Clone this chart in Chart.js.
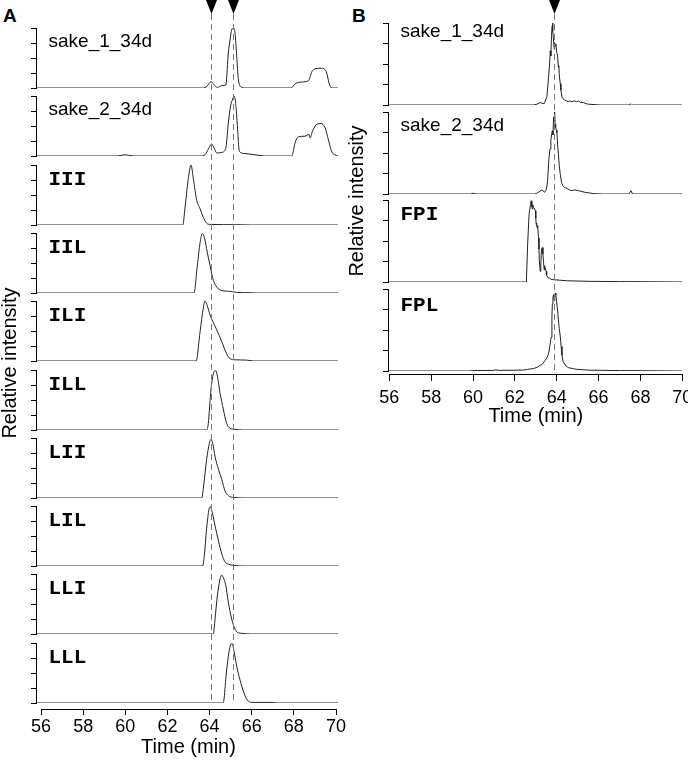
<!DOCTYPE html>
<html>
<head>
<meta charset="utf-8">
<script src="https://cdn.jsdelivr.net/npm/chart.js@4.4.1/dist/chart.umd.min.js"></script>
<style>
  html, body { margin: 0; padding: 0; background: #fff; overflow: hidden; }
  #fig { position: relative; width: 688px; height: 760px; overflow: hidden; background: #fff; }
  #fig canvas { position: absolute; }
  .tag { position: absolute; font: bold 19px "Liberation Sans", Arial, sans-serif; line-height: 1; }
</style>
</head>
<body>
<div id="fig">
  <div class="tag" style="left:3px;top:6px">A</div>
  <div class="tag" style="left:352px;top:6px">B</div>
</div>
<script>
Chart.defaults.font.family = '"Liberation Sans", Arial, sans-serif';
Chart.defaults.color = '#000';
Chart.defaults.animation = false;

// ---- panel A : standards vs sake, [time (min), relative intensity]
const namesA = ['sake_1_34d', 'sake_2_34d', 'III', 'IIL', 'ILI', 'ILL', 'LII', 'LIL', 'LLI', 'LLL'];
const markersA = [64.07, 65.11];

const sake1A = [[55.8,0],[63.7,0],[63.85,0.02],[64.07,0.105],[64.25,0.04],[64.37,0.01],[64.58,0.04],[64.77,0.05],
  [64.89,0.58],[64.97,0.8],[65.05,0.97],[65.13,1.0],[65.21,0.91],[65.29,0.52],[65.36,0.16],[65.49,0.02],[65.68,0],
  [67.87,0],[68.06,0.07],[68.37,0.1],[68.69,0.12],[68.85,0.27],[69.0,0.32],[69.32,0.33],[69.56,0.25],[69.67,0.08],
  [69.8,0],[70.1,0]];
const sake2A = [[55.8,0],[59.6,0],[60.0,0.02],[60.4,0],[63.6,0],[63.78,0.02],[63.95,0.12],[64.1,0.2],[64.22,0.13],
  [64.34,0.05],[64.58,0.06],[64.77,0.13],[64.89,0.55],[65.0,0.84],[65.1,0.95],[65.17,1.0],[65.25,0.84],[65.34,0.39],
  [65.41,0.08],[65.68,0.04],[66.16,0.02],[66.63,0],[67.9,0],[68.06,0.22],[68.21,0.32],[68.53,0.33],[68.72,0.36],
  [68.77,0.3],[68.88,0.41],[69.09,0.53],[69.29,0.54],[69.48,0.47],[69.64,0.27],[69.8,0.07],[69.95,0.02],[70.1,0]];
const iii = [[55.8,0],[62.73,0],[62.83,0.27],[62.99,0.77],[63.12,1.0],[63.23,0.77],[63.39,0.41],[63.55,0.27],
  [63.7,0.13],[63.86,0.03],[64.02,0.01],[65.29,0.005],[66.0,0],[70.1,0]];
const iil = [[55.8,0],[63.26,0],[63.42,0.46],[63.55,0.84],[63.66,0.99],[63.75,0.93],[63.89,0.68],[64.02,0.46],
  [64.18,0.21],[64.34,0.1],[64.58,0.04],[64.89,0.03],[65.29,0.01],[65.92,0.005],[66.2,0],[70.1,0]];
const ili = [[55.8,0],[63.36,0],[63.55,0.49],[63.7,0.88],[63.78,1.0],[63.89,0.92],[64.02,0.77],[64.15,0.66],
  [64.34,0.52],[64.58,0.32],[64.81,0.12],[64.97,0.04],[65.21,0.02],[65.76,0.015],[66.08,0],[70.1,0]];
const ill = [[55.8,0],[63.86,0],[63.94,0.11],[64.05,0.61],[64.15,0.89],[64.26,0.99],[64.34,0.95],[64.5,0.61],
  [64.65,0.35],[64.81,0.11],[64.97,0.03],[65.21,0.01],[65.6,0],[70.1,0]];
const lii = [[55.8,0],[63.63,0],[63.7,0.15],[63.86,0.64],[63.99,0.91],[64.07,0.98],[64.15,0.91],[64.26,0.69],
  [64.42,0.48],[64.58,0.31],[64.73,0.12],[64.89,0.04],[65.13,0.01],[65.76,0],[70.1,0]];
const lil = [[55.8,0],[63.67,0],[63.75,0.17],[63.86,0.62],[63.96,0.92],[64.04,0.99],[64.13,0.89],[64.26,0.67],
  [64.42,0.42],[64.58,0.2],[64.73,0.07],[64.89,0.03],[65.13,0.01],[65.76,0],[70.1,0]];
const lli = [[55.8,0],[64.18,0],[64.26,0.25],[64.37,0.64],[64.5,0.92],[64.58,0.98],[64.65,0.94],[64.77,0.81],
  [64.89,0.53],[65.05,0.25],[65.21,0.08],[65.36,0.02],[65.6,0.01],[65.92,0],[70.1,0]];
const lll = [[55.8,0],[64.62,0],[64.68,0.05],[64.78,0.44],[64.89,0.78],[65.0,0.97],[65.07,0.99],[65.16,0.86],
  [65.29,0.61],[65.44,0.39],[65.63,0.17],[65.79,0.05],[66.0,0.01],[67.03,0.01],[67.19,0],[70.1,0]];
const tracesA = [sake1A, sake2A, iii, iil, ili, ill, lii, lil, lli, lll];

// ---- panel B
const namesB = ['sake_1_34d', 'sake_2_34d', 'FPI', 'FPL'];
const markersB = [63.87];

const sake1B = [[55.9,0],[62.9,0],[63.06,0.01],[63.21,0.03],[63.3,0.02],[63.41,0.02],[63.53,0.1],[63.61,0.34],
  [63.66,0.5],[63.69,0.66],[63.72,0.6],[63.75,0.85],[63.78,0.96],[63.8,1.0],[63.82,0.9],[63.85,0.78],[63.88,0.68],
  [63.9,0.76],[63.93,0.72],[63.96,0.74],[64.0,0.64],[64.04,0.6],[64.08,0.46],[64.1,0.48],[64.13,0.34],[64.17,0.26],
  [64.2,0.18],[64.25,0.1],[64.29,0.08],[64.38,0.06],[64.48,0.05],[64.55,0.04],[64.62,0.05],[64.72,0.04],[64.85,0.05],
  [64.95,0.04],[65.04,0.05],[65.15,0.03],[65.28,0.03],[65.4,0.015],[65.52,0.01],[66.08,0],[67.45,0],[67.51,0.015],
  [67.57,0],[70.0,0]];
const sake2B = [[55.9,0],[59.9,0],[60.0,0.01],[60.1,0],[62.95,0],[63.05,0.01],[63.17,0.03],[63.29,0.05],[63.35,0.04],
  [63.41,0.02],[63.5,0.05],[63.56,0.15],[63.63,0.44],[63.68,0.55],[63.72,0.65],[63.76,0.74],[63.79,0.77],[63.82,0.72],
  [63.85,0.94],[63.88,0.9],[63.9,1.0],[63.92,0.85],[63.95,0.81],[63.98,0.78],[64.01,0.75],[64.04,0.6],[64.08,0.49],
  [64.12,0.35],[64.17,0.24],[64.23,0.14],[64.29,0.1],[64.38,0.08],[64.48,0.07],[64.6,0.05],[64.72,0.04],[64.85,0.05],
  [65.04,0.04],[65.2,0.03],[65.36,0.02],[65.76,0.005],[66.2,0],[67.45,0],[67.55,0.04],[67.62,0],[70.0,0]];
const fpi = [[55.9,0],[62.55,0],[62.61,0.46],[62.68,0.83],[62.74,0.93],[62.78,0.99],[62.81,0.92],[62.83,0.89],
  [62.86,0.94],[62.89,0.91],[62.93,0.9],[62.98,0.87],[63.0,0.78],[63.02,0.7],[63.04,0.72],[63.06,0.66],[63.08,0.69],
  [63.1,0.68],[63.13,0.54],[63.15,0.4],[63.17,0.26],[63.21,0.13],[63.24,0.22],[63.27,0.4],[63.31,0.42],[63.34,0.34],
  [63.37,0.24],[63.4,0.15],[63.42,0.2],[63.45,0.17],[63.49,0.13],[63.52,0.08],[63.56,0.07],[63.6,0.05],[63.66,0.05],
  [63.72,0.03],[63.77,0.03],[64.0,0.025],[64.5,0.015],[65.6,0.008],[67.0,0.005],[68.5,0.003],[70.0,0]];
const fpl = [[55.9,0],[59.8,0],[60.0,0.005],[61.0,0.008],[61.1,0.015],[61.2,0.008],[62.0,0.01],[62.42,0.012],
  [62.6,0.02],[62.9,0.03],[63.1,0.05],[63.21,0.07],[63.3,0.08],[63.45,0.13],[63.55,0.17],[63.61,0.21],[63.67,0.3],
  [63.73,0.41],[63.77,0.65],[63.79,0.82],[63.82,0.9],[63.85,0.93],[63.88,0.86],[63.9,0.88],[63.93,0.95],[63.96,0.93],
  [63.99,0.85],[64.01,0.85],[64.05,0.72],[64.08,0.62],[64.12,0.52],[64.17,0.42],[64.21,0.3],[64.25,0.19],[64.3,0.12],
  [64.36,0.09],[64.45,0.06],[64.57,0.04],[64.75,0.03],[64.97,0.02],[65.6,0.01],[67.04,0.005],[68.5,0.003],[70.0,0]];
const tracesB = [sake1B, sake2B, fpi, fpl];

const timeMin = 56, timeMax = 70, timeStep = 2;

// layout in page pixels
const panels = [
  { names: namesA, traces: tracesA, markers: markersA, smooth: true,
    frameLeft: 0, frameW: 350, frameH: 760, frameTop: 17, axisY: 709,
    axisPx: [41, 336], traceLeft: 36, traceRight: 338,
    firstTop: 28, pitch: 68.3, plotH: 60, labelDy: [19, 19, 20, 20, 20, 20, 20, 20, 20, 20],
    tickLen: 6, tickPad: 1, titleBottom: 3, yTitleX: 10 },
  { names: namesB, traces: tracesB, markers: markersB, smooth: false,
    frameLeft: 345, frameW: 360, frameH: 440, frameTop: 28, axisY: 374,
    axisPx: [389.3, 682.3], traceLeft: 388, traceRight: 682,
    firstTop: 23, pitch: 88.7, plotH: 82, labelDy: [14, 19, 20, 22],
    tickLen: 7, tickPad: 6, titleBottom: 14, yTitleX: 357 }
];

const fig = document.getElementById('fig');

function addCanvas(left, top, w, h, z) {
  const c = document.createElement('canvas');
  c.width = w; c.height = h;
  c.style.left = left + 'px'; c.style.top = top + 'px';
  c.style.width = w + 'px'; c.style.height = h + 'px';
  c.style.zIndex = z;
  fig.appendChild(c);
  return c;
}

const traceLabel = {
  id: 'traceLabel',
  afterDraw(chart, args, opts) {
    const ctx = chart.ctx, a = chart.chartArea;
    ctx.save();
    ctx.fillStyle = '#000';
    ctx.textBaseline = 'alphabetic';
    ctx.font = opts.mono ? 'bold 21px "Liberation Mono", "Courier New", monospace'
                         : '19px "Liberation Sans", Arial, sans-serif';
    ctx.fillText(opts.text, a.left + 12.5, a.top + opts.dy);
    ctx.restore();
  }
};

const markerLines = {
  id: 'markerLines',
  afterDraw(chart, args, opts) {
    const ctx = chart.ctx, x = chart.scales.x;
    ctx.save();
    opts.values.forEach(v => {
      const px = Math.round(x.getPixelForValue(v)) + 0.5;
      ctx.strokeStyle = '#7a7a7a';
      ctx.lineWidth = 1;
      ctx.setLineDash([6, 4]);
      ctx.beginPath();
      ctx.moveTo(px, opts.y0);
      ctx.lineTo(px, opts.y1);
      ctx.stroke();
      ctx.setLineDash([]);
      ctx.fillStyle = '#000';
      ctx.beginPath();
      ctx.moveTo(px - 5.5, 0);
      ctx.lineTo(px + 5.5, 0);
      ctx.lineTo(px, 14);
      ctx.closePath();
      ctx.fill();
    });
    ctx.restore();
  }
};

panels.forEach(p => {
  const k = (p.axisPx[1] - p.axisPx[0]) / (timeMax - timeMin);
  const xLo = timeMin - (p.axisPx[0] - p.traceLeft) / k;
  const xHi = timeMax + (p.traceRight - p.axisPx[1]) / k;
  let lastBottom = 0;

  p.traces.forEach((trace, i) => {
    const top = Math.round(p.firstTop + i * p.pitch);
    lastBottom = top + p.plotH;
    const left = p.traceLeft - 6;
    const w = p.traceRight - left + 2;
    const cv = addCanvas(left, top - 2, w, p.plotH + 4, 1);
    new Chart(cv, {
      type: 'line',
      data: {
        datasets: [{
          data: trace.map(d => ({ x: d[0], y: d[1] })),
          borderColor: '#222',
          borderWidth: 1,
          pointRadius: 0,
          tension: 0,
          cubicInterpolationMode: p.smooth ? 'monotone' : 'default',
          fill: false
        }]
      },
      options: {
        responsive: false,
        animation: false,
        events: [],
        layout: { padding: { left: 0, top: 2, right: 2, bottom: 2 } },
        plugins: {
          legend: { display: false },
          tooltip: { enabled: false },
          traceLabel: { text: p.names[i], mono: !p.names[i].startsWith('sake'), dy: p.labelDy[i] }
        },
        scales: {
          x: { type: 'linear', display: false, min: xLo, max: xHi },
          y: {
            min: 0, max: 1,
            afterFit: s => { s.width = 6; },
            ticks: { display: false, stepSize: 0.25 },
            grid: { drawOnChartArea: false, drawTicks: true, tickLength: 5, color: '#000', lineWidth: 1 },
            border: { display: true, color: '#000', width: 1 }
          }
        }
      },
      plugins: [traceLabel]
    });
  });

  // frame: time axis, axis titles, marker lines
  const fc = addCanvas(p.frameLeft, 0, p.frameW, p.frameH, 2);
  fc.style.pointerEvents = 'none';
  new Chart(fc, {
    type: 'line',
    data: { datasets: [] },
    options: {
      responsive: false,
      animation: false,
      events: [],
      layout: { padding: { left: 0, top: p.frameTop, right: p.frameW - (p.axisPx[1] - p.frameLeft), bottom: 0 } },
      plugins: {
        legend: { display: false },
        tooltip: { enabled: false },
        markerLines: { values: p.markers, y0: 14, y1: lastBottom }
      },
      scales: {
        x: {
          type: 'linear', min: timeMin, max: timeMax,
          afterFit: s => { s.height = p.frameH - p.axisY; },
          ticks: { stepSize: timeStep, font: { size: 18 }, padding: p.tickPad, color: '#000' },
          grid: { drawOnChartArea: false, drawTicks: true, tickLength: p.tickLen, color: '#000' },
          border: { display: true, color: '#000', width: 1 },
          title: { display: true, text: 'Time (min)', font: { size: 20, lineHeight: 1 }, color: '#000',
                   padding: { top: 0, bottom: p.titleBottom } }
        },
        y: {
          min: 0, max: 1,
          afterFit: s => { s.width = p.axisPx[0] - p.frameLeft; },
          ticks: { display: false },
          grid: { display: false },
          border: { display: false },
          title: { display: true, text: 'Relative intensity', font: { size: 20, lineHeight: 1 }, color: '#000',
                   padding: { top: p.yTitleX - p.frameLeft - 10, bottom: 0 } }
        }
      }
    },
    plugins: [markerLines]
  });
});
</script>
</body>
</html>
